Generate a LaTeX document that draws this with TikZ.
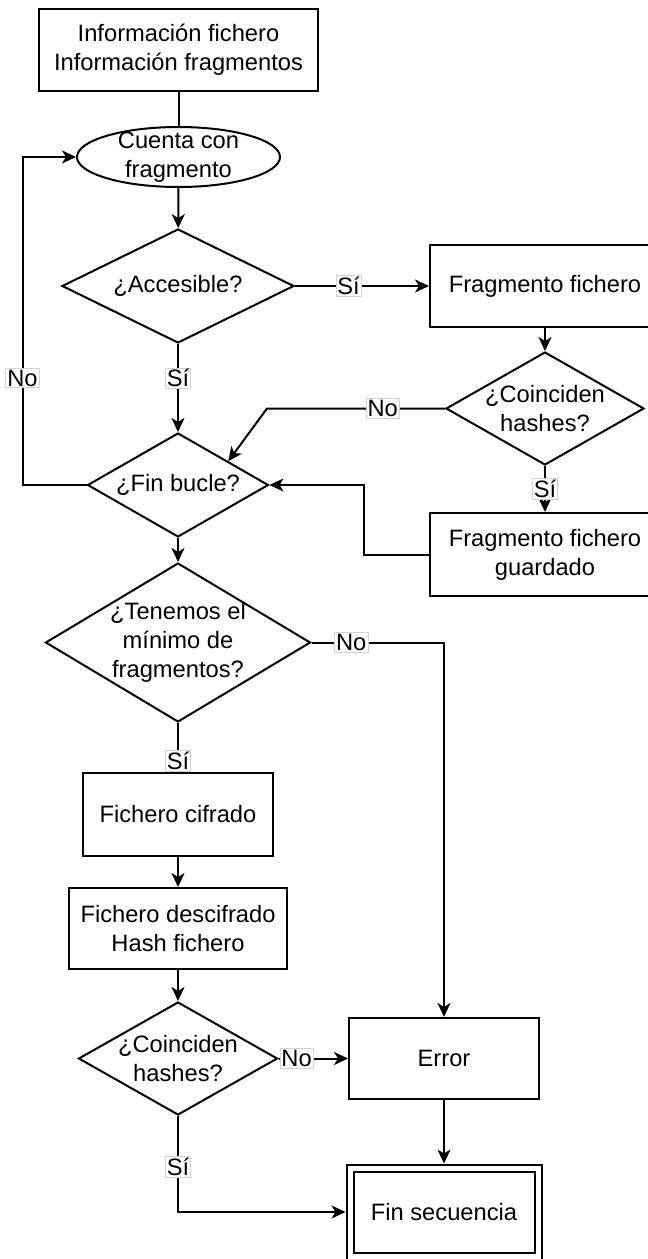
\documentclass[tikz,border=0pt]{standalone}
\usepackage{fontspec}
\setmainfont{Liberation Sans}
\usetikzlibrary{shapes.geometric, arrows.meta, calc}
\begin{document}
\begin{tikzpicture}[x=1pt, y=-1pt,
  every node/.style={font=\fontsize{23.7}{28.8}\selectfont},
  box/.style={draw, line width=2pt, rectangle, align=center, inner sep=0pt},
  dia/.style={draw, line width=2pt, diamond, inner sep=0pt},
  ell/.style={draw, line width=2pt, ellipse, inner sep=0pt},
  lab/.style={fill=white, draw=gray!35, line width=0.8pt, inner sep=1.5pt},
  conn/.style={line width=2pt},
  arr/.style={line width=2pt, -{Stealth[length=14pt, width=13pt, inset=4pt]}},
]
\path[use as bounding box] (0,0) rectangle (648,1259);
\clip (0,0) rectangle (648,1259);
\fill[white] (0,0) rectangle (648,1259);

\node[box, minimum width=279, minimum height=82] (top) at (178.5,50) {Información fichero\\Información fragmentos};
\node[ell, minimum width=203, minimum height=60, label={[align=center]center:{Cuenta con\\fragmento}}] (cue) at (178.5,157) {};
\node[dia, minimum width=232, minimum height=114, label={[align=center]center:{¿Accesible?}}] (acc) at (178,286) {};
\node[box, minimum width=230, minimum height=82] (frag) at (545,286) {Fragmento fichero};
\node[dia, minimum width=198, minimum height=113, label={[align=center]center:{¿Coinciden\\hashes?}}] (coin1) at (545,408.5) {};
\node[dia, minimum width=181, minimum height=104, label={[align=center]center:{¿Fin bucle?}}] (finb) at (178,485) {};
\node[box, minimum width=230, minimum height=83] (guard) at (545,554.5) {Fragmento fichero\\guardado};
\node[dia, minimum width=265, minimum height=159, label={[align=center]center:{¿Tenemos el\\mínimo de\\fragmentos?}}] (ten) at (178,642.5) {};
\node[box, minimum width=190, minimum height=83] (cif) at (178,814.5) {Fichero cifrado};
\node[box, minimum width=218, minimum height=81] (desc) at (178,928.5) {Fichero descifrado\\Hash fichero};
\node[dia, minimum width=199, minimum height=113, label={[align=center]center:{¿Coinciden\\hashes?}}] (coin2) at (178,1058.5) {};
\node[box, minimum width=190, minimum height=81] (err) at (444,1058.5) {Error};
\node[box, minimum width=195, minimum height=95] (fin) at (444,1212) {Fin secuencia};
\draw[line width=2pt] ($(fin.south west)+(8,-8)$) rectangle ($(fin.north east)+(-8,8)$);

\draw[conn] (top) -- (cue);
\draw[arr] (cue) -- (acc);
\draw[arr] (acc) -- node[lab, pos=0.4]{Sí} (frag);
\draw[arr] (acc) -- node[lab, pos=0.39]{Sí} (finb);
\draw[arr] (frag) -- (coin1);
\draw[arr] (coin1) -- node[lab]{Sí} (guard);
\coordinate (nb) at (267,408.5);
\coordinate (fbin) at ($(finb.north)!0.55!(finb.east)$);
\draw[arr] (coin1.west) -- node[lab, pos=0.35]{No} (nb) -- (fbin);
\draw[arr] (guard.west) -- ++(-65,0) |- (finb.east);
\draw[arr] (finb.west) -- ++(-64,0) |- node[lab, pos=0.163]{No} (cue.west);
\draw[arr] (finb) -- (ten);
\draw[arr] (ten) -- node[lab, pos=0.78]{Sí} (cif);
\draw[arr] (ten.east) -| node[lab, pos=0.15]{No} (err.north);
\draw[arr] (cif) -- (desc);
\draw[arr] (desc) -- (coin2);
\draw[arr] (coin2) -- node[lab, pos=0.26]{No} (err);
\draw[arr] (coin2.south) |- node[lab, pos=0.265]{Sí} (fin.west);
\draw[arr] (err) -- (fin);
\end{tikzpicture}
\end{document}
